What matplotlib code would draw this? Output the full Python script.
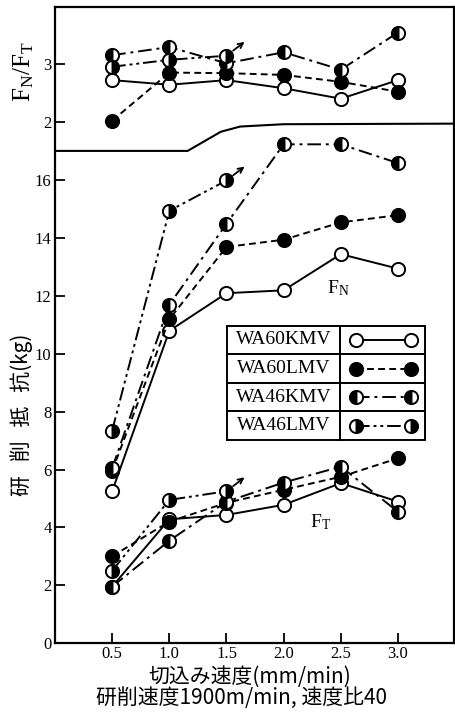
import matplotlib
matplotlib.use("Agg")
import matplotlib.pyplot as plt

plt.rcParams['font.family'] = ['Liberation Serif', 'DejaVu Serif']
plt.rcParams['mathtext.fontset'] = 'custom'
plt.rcParams['mathtext.rm'] = 'Liberation Serif'
plt.rcParams['mathtext.it'] = 'Liberation Serif'

# feed speed (mm/min)
x = [0.5, 1.0, 1.5, 2.0, 2.5, 3.0]
x_short = [0.5, 1.0, 1.5]   # WA46LMV stops at 1.5 (arrow)

names = ['WA60KMV', 'WA60LMV', 'WA46KMV', 'WA46LMV']

# normal force F_N (kg)
fn_60k = [5.25, 10.8, 12.1, 12.2, 13.45, 12.95]
fn_60l = [5.95, 11.2, 13.7, 13.95, 14.55, 14.8]
fn_46k = [6.05, 11.7, 14.5, 17.25, 17.25, 16.6]
fn_46l = [7.35, 14.95, 16.0]

# tangential force F_T (kg)
ft_60k = [1.95, 4.28, 4.43, 4.78, 5.53, 4.89]
ft_60l = [3.0, 4.2, 4.85, 5.3, 5.75, 6.39]
ft_46k = [1.95, 3.54, 4.89, 5.55, 6.1, 4.54]
ft_46l = [2.5, 4.95, 5.25]

# force ratio F_N/F_T
r_60k = [2.72, 2.64, 2.72, 2.58, 2.4, 2.72]
r_60l = [2.02, 2.85, 2.84, 2.81, 2.69, 2.52]
r_46k = [3.15, 3.29, 3.01, 3.2, 2.9, 3.54]
r_46l = [2.95, 3.07, 3.14]

# boundary between the two panels (ratio units)
bx = [0.0, 1.16, 1.45, 1.62, 2.0, 3.5]
by = [1.5, 1.5, 1.83, 1.92, 1.96, 1.97]

styles = {
    'WA60KMV': dict(ls='-', mfc='white', fillstyle='full'),
    'WA60LMV': dict(ls=(0, (3.5, 2.2)), mfc='black', fillstyle='full'),
    'WA46KMV': dict(ls=(0, (7, 2.5, 1.5, 2.5)), mfc='black', fillstyle='left'),
    'WA46LMV': dict(ls=(0, (7, 2, 1.5, 2, 1.5, 2)), mfc='black', fillstyle='right'),
}

fig = plt.figure(figsize=(4.55, 7.12), dpi=100)
rect = [55/455, 1 - 643/712, 399/455, 636/712]
ax = fig.add_axes(rect)
ax2 = fig.add_axes(rect, frameon=False)

def draw(a, xs, ys, name):
    st = styles[name]
    a.plot(xs, ys, color='black', lw=1.4, ls=st['ls'], marker='o', ms=9.5,
           mec='black', mew=1.4, mfc=st['mfc'], fillstyle=st['fillstyle'],
           markerfacecoloralt='white', clip_on=False, zorder=3)

def arrow(a, xx, yy):
    a.annotate('', xy=(xx, yy), xytext=(13, 10), textcoords='offset points',
               arrowprops=dict(arrowstyle='<-', lw=1.3, color='black',
                               shrinkA=0, shrinkB=6, mutation_scale=9))

for xs, ys, n in [(x, fn_60k, names[0]), (x, fn_60l, names[1]),
                  (x, fn_46k, names[2]), (x_short, fn_46l, names[3]),
                  (x, ft_60k, names[0]), (x, ft_60l, names[1]),
                  (x, ft_46k, names[2]), (x_short, ft_46l, names[3])]:
    draw(ax, xs, ys, n)
arrow(ax, x_short[-1], fn_46l[-1])
arrow(ax, x_short[-1], ft_46l[-1])

for xs, ys, n in [(x, r_60k, names[0]), (x, r_60l, names[1]),
                  (x, r_46k, names[2]), (x_short, r_46l, names[3])]:
    draw(ax2, xs, ys, n)
arrow(ax2, x_short[-1], r_46l[-1])
ax2.plot(bx, by, color='black', lw=1.5)

ax.set_xlim(0, 3.49)
ax2.set_xlim(0, 3.49)
ax.set_ylim(0, 22.0)
ax2.set_ylim(-6.98, 3.98)

ax.set_xticks(x)
ax.set_xticklabels(['0.5', '1.0', '1.5', '2.0', '2.5', '3.0'])
ax.set_yticks([0, 2, 4, 6, 8, 10, 12, 14, 16])
ax2.set_yticks([2, 3])
ax2.set_xticks([])
for a in (ax, ax2):
    a.tick_params(direction='in', length=7, width=1.3, labelsize=12, pad=2.5)
for s in ax.spines.values():
    s.set_linewidth(1.6)

ax.text(2.48, 12.28, r'F$_{\mathrm{N}}$', fontsize=14, ha='center', va='center')
ax.text(2.32, 4.19, r'F$_{\mathrm{T}}$', fontsize=14, ha='center', va='center')

# legend drawn as a boxed table
tb = ax.table(cellText=[[n, ''] for n in names], colWidths=[0.573, 0.427],
              bbox=[0.43, 0.319, 0.4975, 0.18], cellLoc='center')
tb.auto_set_font_size(False)
for (r, c), cell in tb.get_celld().items():
    cell.set_linewidth(1.4)
    cell.get_text().set_fontsize(14)
    cell.get_text().set_fontfamily('Liberation Serif')
for i, n in enumerate(names):
    yy = 0.499 - (i + 0.5) * 0.18 / 4
    st = styles[n]
    ax.plot([0.755, 0.892], [yy, yy], transform=ax.transAxes, color='black',
            lw=1.4, ls=st['ls'], marker='o', ms=9.5, mec='black', mew=1.4,
            mfc=st['mfc'], fillstyle=st['fillstyle'], markerfacecoloralt='white',
            zorder=5)

cjk = ['Noto Sans CJK JP', 'DejaVu Sans']
fig.text(22/455, 1 - 415/712, '研   削   抵   抗(kg)', rotation=90, fontsize=15,
         family=cjk, ha='center', va='center')
fig.text(24/455, 1 - 72/712, r'F$_{\mathrm{N}}$/F$_{\mathrm{T}}$', rotation=90,
         fontsize=18, ha='center', va='center')
fig.text(250/455, 1 - 677/712, '切込み速度(mm/min)', fontsize=15, family=cjk,
         ha='center', va='center')
fig.text(242/455, 1 - 698/712, '研削速度1900m/min, 速度比40', fontsize=15,
         family=cjk, ha='center', va='center')

fig.savefig('out.png', dpi=100)
